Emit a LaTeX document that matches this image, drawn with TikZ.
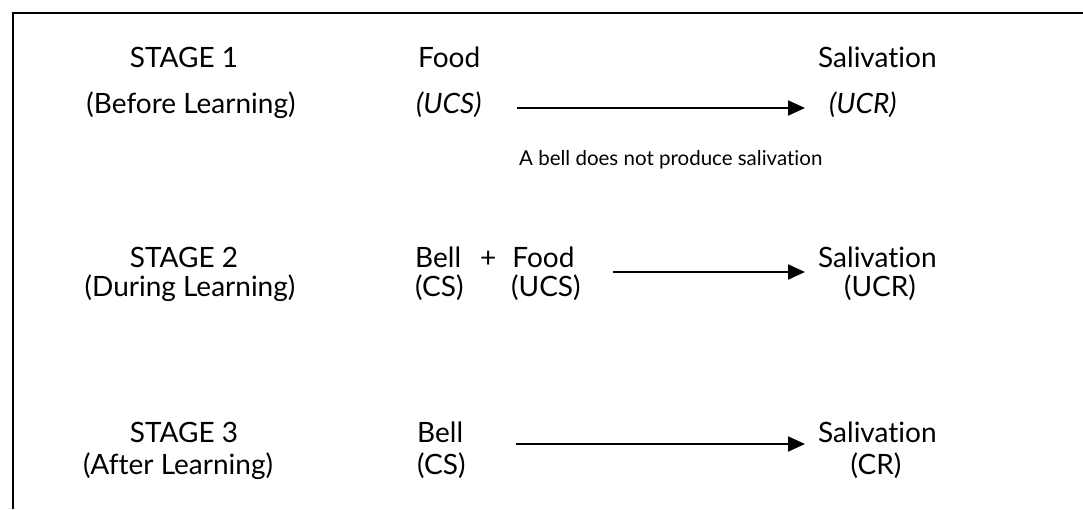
\documentclass[tikz,border=0pt]{standalone}
\usepackage{fontspec}
\setmainfont{Lato}[Ligatures={NoCommon}]
\usetikzlibrary{arrows.meta}
\begin{document}
\begin{tikzpicture}[x=1pt,y=-1pt,
  txt/.style={inner sep=0pt, font=\fontsize{28}{32}\selectfont},
  itx/.style={inner sep=0pt, font=\fontsize{28}{32}\selectfont\itshape},
  small/.style={inner sep=0pt, font=\fontsize{20.5}{24}\selectfont},
  arr/.style={line width=2pt, -{Triangle[length=17pt,width=15pt]}},
  frame/.style={line width=2pt}]
\useasboundingbox (0,0) rectangle (1083,509);
\coordinate (fb) at (12.5,509);
\coordinate (fc) at (12.5,12.5);
\coordinate (fr) at (1083,12.5);
\draw[frame] (fb) -- (fc) -- (fr);
% stage 1
\node[txt, anchor=base] (st1) at (184,67) {STAGE 1};
\node[txt, anchor=base] (st1b) at (191,113) {(Before Learning)};
\node[txt, anchor=base west] (food1) at (418,67) {Food};
\node[itx, anchor=base west] (ucs1) at (416,113) {(UCS)};
\node[txt, anchor=base west] (sal1) at (818,67) {Salivation};
\node[itx, anchor=base west] (ucr1) at (829,113) {(UCR)};
\node[small, anchor=base west] (note) at (519,165) {A bell does not produce salivation};
\coordinate (a1s) at (517,108);
\coordinate (a1e) at (805,108);
\draw[arr] (a1s) -- (a1e);
% stage 2
\node[txt, anchor=base] (st2) at (184,267) {STAGE 2};
\node[txt, anchor=base] (st2b) at (190,296) {(During Learning)};
\node[txt, anchor=base west] (bf2) at (415,267) {Bell\hspace{19pt}+\hspace{16pt}Food};
\node[txt, anchor=base west] (cs2) at (415,296) {(CS)};
\node[txt, anchor=base west] (ucs2) at (511,296) {(UCS)};
\node[txt, anchor=base west] (sal2) at (818,267) {Salivation};
\node[txt, anchor=base] (ucr2) at (880,296) {(UCR)};
\coordinate (a2s) at (613,272);
\coordinate (a2e) at (805,272);
\draw[arr] (a2s) -- (a2e);
% stage 3
\node[txt, anchor=base] (st3) at (184,442) {STAGE 3};
\node[txt, anchor=base] (st3b) at (178,474) {(After Learning)};
\node[txt, anchor=base west] (bell3) at (417,442) {Bell};
\node[txt, anchor=base west] (cs3) at (417,474) {(CS)};
\node[txt, anchor=base west] (sal3) at (818,442) {Salivation};
\node[txt, anchor=base] (cr3) at (876,474) {(CR)};
\coordinate (a3s) at (516,444);
\coordinate (a3e) at (805,444);
\draw[arr] (a3s) -- (a3e);
\end{tikzpicture}
\end{document}
